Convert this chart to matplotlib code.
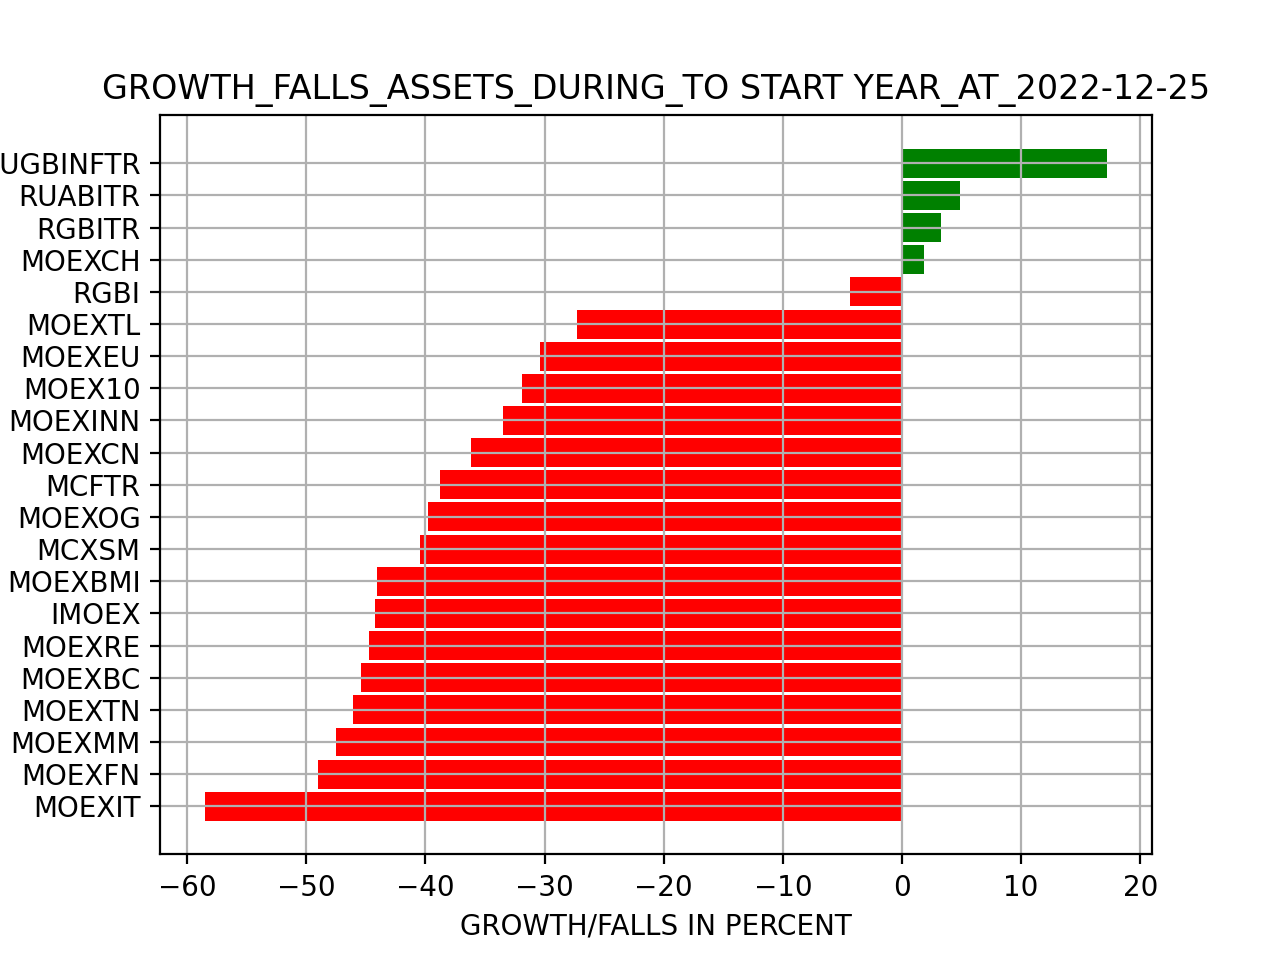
import matplotlib
matplotlib.use("Agg")
import matplotlib.pyplot as plt

# assets sorted from worst to best (bottom to top of the chart)
tickers = [
    "MOEXIT", "MOEXFN", "MOEXMM", "MOEXTN", "MOEXBC", "MOEXRE", "IMOEX",
    "MOEXBMI", "MCXSM", "MOEXOG", "MCFTR", "MOEXCN", "MOEXINN", "MOEX10",
    "MOEXEU", "MOEXTL", "RGBI", "MOEXCH", "RGBITR", "RUABITR", "RUGBINFTR",
]
change_pct = [
    -58.5, -49.0, -47.5, -46.1, -45.4, -44.7, -44.2,
    -44.1, -40.5, -39.8, -38.8, -36.2, -33.5, -31.9,
    -30.4, -27.3, -4.35, 1.84, 3.27, 4.86, 17.2,
]

colors = ["green" if v > 0 else "red" for v in change_pct]

fig, ax = plt.subplots(figsize=(6.4, 4.8), dpi=200)
ax.barh(tickers, change_pct, color=colors, height=0.9)
ax.set_title("GROWTH_FALLS_ASSETS_DURING_TO START YEAR_AT_2022-12-25")
ax.set_xlabel("GROWTH/FALLS IN PERCENT")
ax.grid(True)

fig.savefig("out.png", dpi=200)
